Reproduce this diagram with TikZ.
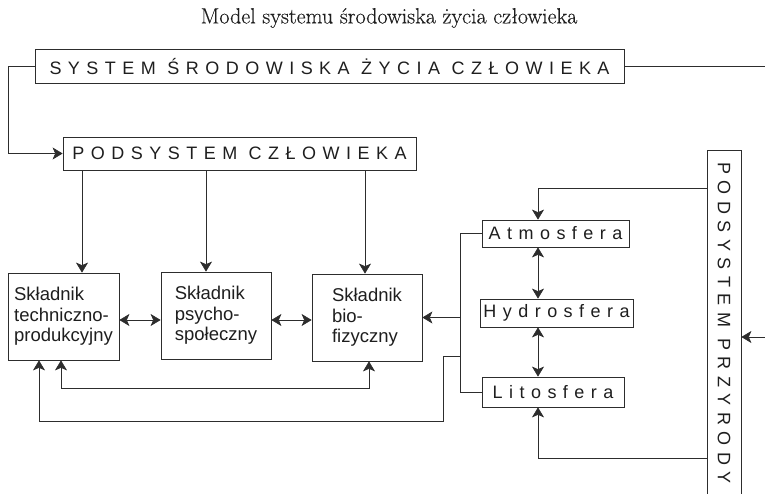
\documentclass[tikz,border=0pt]{standalone}
\usepackage{fontspec}
\newfontfamily\arialf{Liberation Sans}
\newfontfamily\arialsp[LetterSpace=36]{Liberation Sans}
\newfontfamily\titlef[FakeBold=0.3]{Latin Modern Roman}
\usetikzlibrary{arrows.meta}
\definecolor{ln}{RGB}{45,45,45}
\definecolor{txt}{RGB}{30,30,30}
\begin{document}
\begin{tikzpicture}[x=1pt,y=-1pt,
  box/.style={draw=ln, line width=0.8pt, inner sep=0pt, align=left, text=txt,
    font=\arialf\fontsize{18.5}{20.5}\selectfont},
  capbox/.style={draw=ln, line width=0.8pt, inner sep=0pt, text=txt,
    font=\arialsp\fontsize{18}{20}\selectfont},
  conn/.style={draw=ln, line width=0.8pt},
  tip/.tip={Stealth[length=10pt,width=12pt,inset=2.6pt,line width=0.6pt]},
  arr/.style={conn, -tip},
  arr2/.style={conn, tip-tip}]
\path[use as bounding box, clip] (0,0) rectangle (765,494);

% title
\node[font=\titlef\fontsize{22}{25}\selectfont, text=txt] (title) at (389,18) {Model systemu środowiska życia człowieka};

% main boxes
\node[capbox, minimum width=589pt, minimum height=34pt] (sys) at (329.5,66.5) {SYSTEM ŚRODOWISKA ŻYCIA CZŁOWIEKA};
\node[capbox, minimum width=353pt, minimum height=33pt] (pcz) at (239.5,153.5) {PODSYSTEM CZŁOWIEKA};

\node[box, minimum width=111pt, minimum height=87pt] (tech) at (63.5,316.5) {Składnik\\techniczno-\\produkcyjny};
\node[box, minimum width=110pt, minimum height=87pt] (psy) at (216,315.5) {Składnik\\psycho-\\społeczny};
\node[box, minimum width=110pt, minimum height=87pt] (bio) at (367,317.5) {Składnik\\bio-\\fizyczny};

\node[capbox, minimum width=147pt, minimum height=27pt] (atm) at (555.5,233.5) {Atmosfera};
\node[capbox, minimum width=153pt, minimum height=28pt] (hyd) at (556.5,313) {Hydrosfera};
\node[capbox, minimum width=142pt, minimum height=30pt] (lit) at (553,392) {Litosfera};

% PODSYSTEM PRZYRODY (box runs off the bottom edge)
\node[draw=ln, line width=0.8pt, minimum width=34pt, minimum height=370pt, inner sep=0pt] (przb) at (724,335) {};
\node[capbox, draw=none, rotate=-90] (przt) at (724,323) {PODSYSTEM PRZYRODY};

% helper coordinates
\coordinate (ry) at (0,320);
\coordinate (c1) at (82,0);
\coordinate (c2) at (206,0);
\coordinate (c3) at (365,0);
\coordinate (col) at (538,188);
\coordinate (colb) at (538,458);
\coordinate (busb) at (460,392);
\coordinate (busbio) at (460,317.5);
\coordinate (busout) at (460,356);
\coordinate (loopL) at (39,421);
\coordinate (il) at (61,388);
\coordinate (ir) at (369,388);
\coordinate (redge) at (765,66.5);
\coordinate (rin) at (765,337);

% connectors
\draw[arr] (sys.west) -- ++(-26,0) |- (pcz.west);
\draw[conn] (sys.east) -- (redge);

\draw[arr] (pcz.south -| c1) -- (tech.north -| c1);
\draw[arr] (pcz.south -| c2) -- (psy.north -| c2);
\draw[arr] (pcz.south -| c3) -- (bio.north -| c3);

\draw[arr2] (tech.east |- ry) -- (psy.west |- ry);
\draw[arr2] (psy.east |- ry) -- (bio.west |- ry);

\draw[conn] (atm.west) -| (busb) -- (lit.west);
\draw[arr] (busbio) -- (bio.east |- busbio);
\draw[arr] (busout) -- ++(-17,0) |- (loopL) -- (tech.south -| loopL);
\draw[arr2] (tech.south -| il) -- (il) -- (ir) -- (bio.south -| ir);

\draw[arr] (przb.west |- col) -- (col) -- (atm.north -| col);
\draw[arr] (przb.west |- colb) -- (colb) -- (lit.south -| colb);
\draw[arr2] (atm.south -| col) -- (hyd.north -| col);
\draw[arr2] (hyd.south -| col) -- (lit.north -| col);

\draw[arr] (rin) -- (przb.east |- rin);
\end{tikzpicture}
\end{document}
